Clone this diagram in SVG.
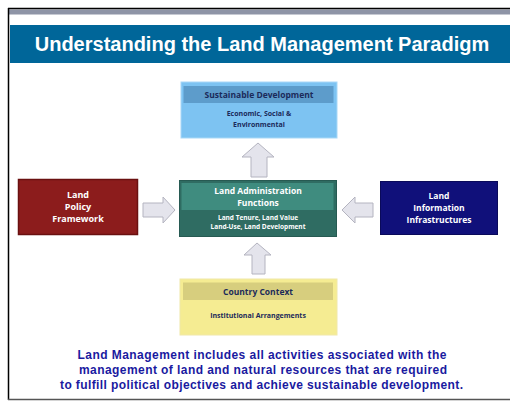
<svg xmlns="http://www.w3.org/2000/svg" width="510" height="401" viewBox="0 0 510 401">
<defs>
<style>
.t{font-family:"Open Sans","Noto Sans","Liberation Sans",sans-serif;font-weight:bold;text-anchor:middle}
.w{fill:#ffffff}
.n{fill:#1b2a5a}
.arr{fill:#e4e4ec;stroke:#b4b4c0;stroke-width:1}
</style>
</defs>
<rect x="0" y="0" width="510" height="401" fill="#ffffff"/>
<!-- frame -->
<rect x="9" y="9.5" width="501" height="5" fill="#8e94a6"/>
<line x1="8" y1="8.5" x2="510" y2="8.5" stroke="#000" stroke-width="1.5"/>
<line x1="8.5" y1="8" x2="8.5" y2="400" stroke="#000" stroke-width="1.5"/>
<line x1="8" y1="399.5" x2="510" y2="399.5" stroke="#555" stroke-width="1.5"/>
<!-- title -->
<g id="title">
<rect x="10" y="25" width="500" height="38" fill="#006699"/>
<text x="262" y="51" font-family="Liberation Sans,Arial,sans-serif" font-weight="bold" font-size="20" fill="#fff" text-anchor="middle">Understanding the Land Management Paradigm</text>
</g>
<g id="connectors">
<path class="arr" d="M258,143 L274,157 L267,157 L267,177 L251,177 L251,157 L242,157 Z"/>
<path class="arr" d="M175,210 L163,197 L163,203 L143,203 L143,217 L163,217 L163,223 Z"/>
<path class="arr" d="M342,210 L355,197 L355,203 L373,203 L373,217 L355,217 L355,223 Z"/>
<path class="arr" d="M257,243 L271,255 L265,255 L265,274 L252,274 L252,255 L244,255 Z"/>
</g>
<g id="sustainable">
<rect x="181" y="82" width="156" height="56" fill="#7dc3f2" stroke="#a9d8f7" stroke-width="1"/>
<rect x="183.5" y="86" width="150" height="17" fill="#5d9ccb"/>
<text class="t n" x="259" y="98" font-size="8.5">Sustainable Development</text>
<text class="t n" x="259" y="116" font-size="7">Economic, Social &amp;</text>
<text class="t n" x="259" y="127" font-size="7">Environmental</text>
</g>
<g id="policy">
<rect x="18.5" y="179.5" width="119" height="55" fill="#8c1c1c" stroke="#6a1010" stroke-width="1.5"/>
<text class="t w" x="78" y="198" font-size="9">Land</text>
<text class="t w" x="78" y="209.5" font-size="9">Policy</text>
<text class="t w" x="78" y="222" font-size="9">Framework</text>
</g>
<g id="admin">
<rect x="179.5" y="180.5" width="157" height="56" fill="#2f6c62" stroke="#275a52" stroke-width="1"/>
<rect x="181.5" y="183" width="152" height="27" fill="#3f8c7f"/>
<text class="t w" x="258" y="194" font-size="8.5">Land Administration</text>
<text class="t w" x="258" y="206" font-size="8.5">Functions</text>
<text class="t w" x="258" y="220" font-size="6.5">Land Tenure, Land Value</text>
<text class="t w" x="258" y="229" font-size="6.5">Land-Use, Land Development</text>
</g>
<g id="info">
<rect x="380.5" y="181.5" width="117" height="53" fill="#10107a" stroke="#0a0a5a" stroke-width="1"/>
<text class="t w" x="439" y="199" font-size="8.5">Land</text>
<text class="t w" x="439" y="211" font-size="8.5">Information</text>
<text class="t w" x="439" y="223" font-size="8.5">Infrastructures</text>
</g>
<g id="country">
<rect x="180" y="279" width="157" height="56" fill="#f5ec92" stroke="#f0e8a8" stroke-width="1"/>
<rect x="183" y="282.5" width="150" height="17.5" fill="#d7ce7e"/>
<text class="t n" x="258" y="294.5" font-size="8.5">Country Context</text>
<text class="t n" x="258" y="318" font-size="7">Institutional Arrangements</text>
</g>
<g id="caption" font-family="Liberation Sans,Arial,sans-serif" font-weight="bold" font-size="12" fill="#1a1aa0" text-anchor="middle">
<text x="262" y="359" textLength="369" lengthAdjust="spacing">Land Management includes all activities associated with the</text>
<text x="263" y="374" textLength="368" lengthAdjust="spacing">management of land and natural resources that are required</text>
<text x="261.5" y="389" textLength="403" lengthAdjust="spacing">to fulfill political objectives and achieve sustainable development.</text>
</g>
</svg>
